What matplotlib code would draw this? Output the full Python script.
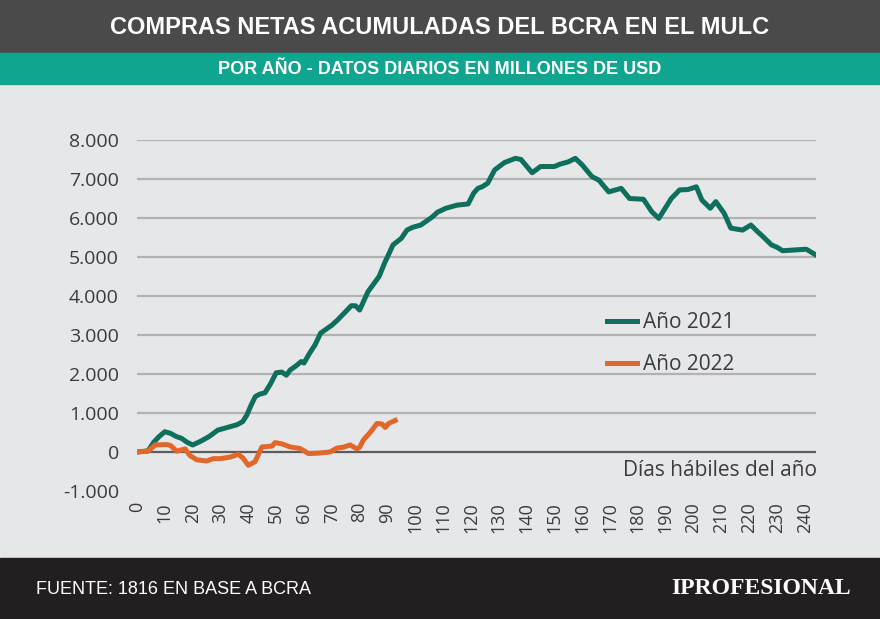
import matplotlib
matplotlib.use('Agg')
import matplotlib.pyplot as plt
from matplotlib.patches import Rectangle
from matplotlib.lines import Line2D

# datos (dias habiles, millones de USD)
dias_2021 = [0, 4, 6, 8, 10, 12, 14, 16, 18, 20, 23, 26, 29, 31, 33.5, 36, 38, 39.5, 41, 42.5,
             44, 46, 48, 50, 52, 53.7, 55, 57, 59, 60, 62, 64, 66, 68, 70, 72, 75, 77, 78.5, 80,
             83, 87, 89, 92, 95, 97, 99, 102, 106, 108, 111, 115, 119, 121, 122.5, 124, 126, 128.5,
             132, 136, 138, 142, 145, 150, 152, 155, 157.5, 160, 163.5, 166, 169.5, 174, 177, 182,
             185, 187.5, 192, 195, 198, 201, 203, 206, 208, 211, 213.4, 217.6, 220.6, 223, 225, 228,
             230, 232, 240.5, 244]
compras_2021 = [0, 30, 250, 400, 520, 480, 400, 350, 250, 180, 280, 400, 560, 600, 650, 700, 780, 950,
                1200, 1420, 1480, 1520, 1750, 2030, 2050, 1970, 2100, 2200, 2320, 2280, 2530, 2750,
                3050, 3150, 3250, 3380, 3600, 3750, 3750, 3640, 4110, 4500, 4850, 5310, 5480, 5690,
                5760, 5820, 6020, 6150, 6250, 6330, 6360, 6640, 6760, 6800, 6890, 7230, 7420, 7530,
                7500, 7160, 7320, 7320, 7380, 7440, 7530, 7360, 7060, 6970, 6670, 6760, 6500, 6480,
                6160, 5990, 6500, 6720, 6730, 6800, 6460, 6250, 6420, 6120, 5740, 5690, 5820, 5650,
                5520, 5310, 5250, 5160, 5200, 5050]

dias_2022 = [0, 4, 6.5, 10.7, 12, 14.3, 17.3, 19, 21.5, 25, 27.5, 30, 33.5, 36.4, 38, 40, 42.4, 44.9,
             48.5, 49.6, 52, 55, 58.6, 61.6, 65, 69.4, 71.8, 74, 76.6, 79, 80, 81.4, 84, 86.2, 88,
             89.2, 90.4, 92.8]
compras_2022 = [0, 20, 180, 190, 170, 20, 80, -90, -200, -230, -170, -170, -130, -60, -150, -340, -250,
                130, 150, 240, 210, 130, 90, -40, -30, 0, 100, 120, 180, 80, 120, 310, 520, 730, 720,
                630, 730, 810]

y_ticks = [-1000, 0, 1000, 2000, 3000, 4000, 5000, 6000, 7000, 8000]
y_labels = ['-1.000', '0', '1.000', '2.000', '3.000', '4.000', '5.000', '6.000', '7.000', '8.000']
x_ticks = list(range(0, 241, 10))
series_labels = ['Año 2021', 'Año 2022']

verde = '#0d6f5c'
naranja = '#e2672a'
texto = '#3b3b3d'
bold_sans = ['Liberation Sans', 'DejaVu Sans']
sans = ['Open Sans', 'DejaVu Sans']

W, H = 880, 619
fig = plt.figure(figsize=(8.8, 6.19), dpi=100)
fig.patch.set_facecolor('#e6e7e8')

# bandas de encabezado y pie
fig.add_artist(Rectangle((0, 1 - 53 / H), 1, 53 / H, transform=fig.transFigure, color='#4a4a4a'))
fig.add_artist(Rectangle((0, 1 - 84 / H), 1, 31 / H, transform=fig.transFigure, color='#10a58f'))
fig.add_artist(Rectangle((0, 0), 1, 61 / H, transform=fig.transFigure, color='#231f20'))

fig.text(0.5, 1 - 28 / H, 'COMPRAS NETAS ACUMULADAS DEL BCRA EN EL MULC', color='white',
         fontsize=17, fontweight='bold', family=bold_sans, ha='center', va='center')
fig.text(0.5, 1 - 70 / H, 'POR AÑO - DATOS DIARIOS EN MILLONES DE USD', color='white',
         fontsize=13, fontweight='bold', family=bold_sans, ha='center', va='center')

# area del grafico
ax = fig.add_axes([137 / W, 1 - 491 / H, (816 - 137) / W, (491 - 140) / H])
ax.set_facecolor('none')
ax.set_xlim(0, 244)
ax.set_ylim(-1000, 8000)
for v in y_ticks[2:]:
    ax.axhline(v, color='#b2b2b2', lw=1.6, zorder=1)
ax.axhline(0, color='#5c5c5c', lw=1.6, zorder=1)

ax.plot(dias_2021, compras_2021, color=verde, lw=3.6, solid_joinstyle='round', zorder=3)
ax.plot(dias_2022, compras_2022, color=naranja, lw=3.6, solid_joinstyle='round', zorder=3)

ax.set_yticks(y_ticks)
ax.set_yticklabels(y_labels, family=sans, fontsize=14, color=texto)
ax.set_xticks(x_ticks)
ax.set_xticklabels([str(t) for t in x_ticks], family=sans, fontsize=13, color=texto, rotation=90)
ax.tick_params(axis='y', length=0, pad=13)
ax.tick_params(axis='x', length=0, pad=8)
for s in ax.spines.values():
    s.set_visible(False)

handles = [Line2D([], [], color=verde, lw=3.6), Line2D([], [], color=naranja, lw=3.6)]
leg = ax.legend(handles, series_labels, loc='upper left', bbox_to_anchor=(607 / W, 1 - 312 / H),
                bbox_transform=fig.transFigure, frameon=False, prop={'family': sans, 'size': 15},
                handlelength=1.45, handletextpad=0.3, labelspacing=1.0, borderpad=0, borderaxespad=0)
for t in leg.get_texts():
    t.set_color(texto)

fig.text(817 / W, 1 - 470 / H, 'Días hábiles del año', family=sans, fontsize=15, color=texto,
         ha='right', va='center')

# pie
fig.text(36 / W, 1 - 590 / H, 'FUENTE: 1816 EN BASE A BCRA', color='white', fontsize=13,
         family=bold_sans, ha='left', va='center')
fig.text(851 / W, 1 - 589 / H, 'IPROFESIONAL', color='white', fontsize=17, fontweight='bold',
         family=['Liberation Serif', 'DejaVu Serif'], ha='right', va='center')

fig.savefig('out.png', dpi=100, facecolor=fig.get_facecolor())
